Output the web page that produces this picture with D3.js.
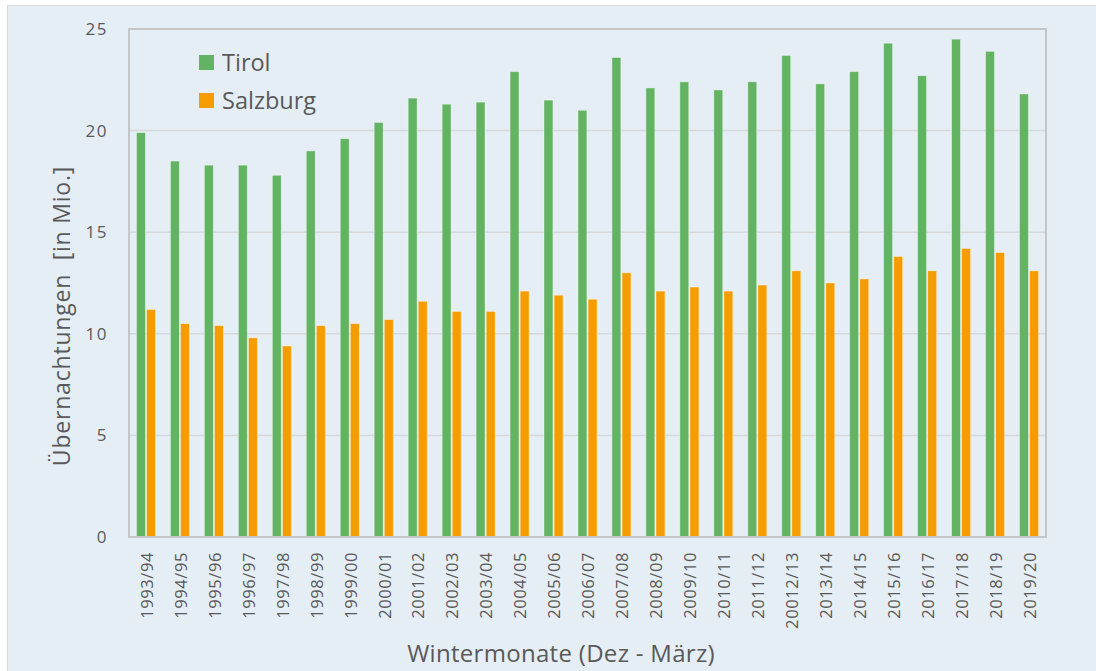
<!DOCTYPE html>
<html>
<head>
<meta charset="utf-8">
<script src="https://cdn.jsdelivr.net/npm/d3@7"></script>
<style>
  html, body { margin: 0; padding: 0; background: #ffffff; }
  svg { display: block; font-family: "Open Sans", "DejaVu Sans", sans-serif; }
</style>
</head>
<body>
<svg id="chart" width="1096" height="671"></svg>
<script>
// Winter overnight stays (Dec - March), millions
const seasons = [
  '1993/94', '1994/95', '1995/96', '1996/97', '1997/98', '1998/99', '1999/00',
  '2000/01', '2001/02', '2002/03', '2003/04', '2004/05', '2005/06', '2006/07',
  '2007/08', '2008/09', '2009/10', '2010/11', '2011/12', '20012/13', '2013/14',
  '2014/15', '2015/16', '2016/17', '2017/18', '2018/19', '2019/20'
];
const tirol = [
  19.9, 18.5, 18.3, 18.3, 17.8, 19.0, 19.6,
  20.4, 21.6, 21.3, 21.4, 22.9, 21.5, 21.0,
  23.6, 22.1, 22.4, 22.0, 22.4, 23.7, 22.3,
  22.9, 24.3, 22.7, 24.5, 23.9, 21.8
];
const salzburg = [
  11.2, 10.5, 10.4, 9.8, 9.4, 10.4, 10.5,
  10.7, 11.6, 11.1, 11.1, 12.1, 11.9, 11.7,
  13.0, 12.1, 12.3, 12.1, 12.4, 13.1, 12.5,
  12.7, 13.8, 13.1, 14.2, 14.0, 13.1
];
const seriesNames = ['Tirol', 'Salzburg'];
const seriesColors = ['#62b463', '#f59c00'];
const yTicks = [0, 5, 10, 15, 20, 25];

const svg = d3.select('#chart');
const W = 1096, H = 671;
const plot = { left: 129, right: 1046, top: 29, bottom: 537 };
const textColor = '#595959';

// chart background panel
svg.append('rect')
  .attr('x', 7.5).attr('y', 5.5)
  .attr('width', W).attr('height', H)
  .attr('fill', '#e5eef5')
  .attr('stroke', '#d4d9dd');

const x = d3.scaleBand()
  .domain(seasons)
  .range([plot.left, plot.right])
  .paddingInner(0.44)
  .paddingOuter(0.22);

const xSub = d3.scaleBand()
  .domain(seriesNames)
  .range([0, x.bandwidth()])
  .paddingInner(0.12);

const y = d3.scaleLinear()
  .domain([0, 25])
  .range([plot.bottom, plot.top]);

// gridlines
svg.append('g')
  .selectAll('line')
  .data(yTicks.filter(t => t > 0 && t < 25))
  .join('line')
  .attr('x1', plot.left).attr('x2', plot.right)
  .attr('y1', d => y(d)).attr('y2', d => y(d))
  .attr('stroke', '#d6d9dc')
  .attr('stroke-width', 1.5);

// bars
const rows = seasons.map((s, i) => ({ season: s, values: [tirol[i], salzburg[i]] }));
const groups = svg.append('g')
  .selectAll('g')
  .data(rows)
  .join('g')
  .attr('transform', d => `translate(${x(d.season)},0)`);

groups.selectAll('rect')
  .data(d => d.values.map((v, k) => ({ key: seriesNames[k], value: v, color: seriesColors[k] })))
  .join('rect')
  .attr('x', d => xSub(d.key))
  .attr('width', xSub.bandwidth())
  .attr('y', d => y(d.value))
  .attr('height', d => y(0) - y(d.value))
  .attr('fill', d => d.color)
  .attr('stroke', 'rgba(255,255,255,0.45)')
  .attr('stroke-width', 0.8);

// plot frame
svg.append('rect')
  .attr('x', plot.left).attr('y', plot.top)
  .attr('width', plot.right - plot.left)
  .attr('height', plot.bottom - plot.top)
  .attr('fill', 'none')
  .attr('stroke', '#c4c7ca')
  .attr('stroke-width', 2);

// y axis labels
svg.append('g')
  .selectAll('text')
  .data(yTicks)
  .join('text')
  .attr('x', 108)
  .attr('y', d => y(d))
  .attr('dy', '0.35em')
  .attr('text-anchor', 'end')
  .attr('fill', textColor)
  .attr('font-size', 17)
  .attr('letter-spacing', 1.5)
  .text(d => d);

// x axis labels (rotated)
svg.append('g')
  .selectAll('text')
  .data(seasons)
  .join('text')
  .attr('transform', d => `translate(${x(d) + x.bandwidth() / 2 + 1},552) rotate(-90)`)
  .attr('dy', '0.35em')
  .attr('text-anchor', 'end')
  .attr('fill', textColor)
  .attr('font-size', 16.5)
  .attr('letter-spacing', 0.6)
  .text(d => d);

// axis titles
svg.append('text')
  .attr('transform', 'translate(62,316) rotate(-90)')
  .attr('dy', '0.35em')
  .attr('text-anchor', 'middle')
  .attr('fill', textColor)
  .attr('font-size', 23)
  .attr('letter-spacing', 0.8)
  .attr('xml:space', 'preserve')
  .text('Übernachtungen  [in Mio.]');

svg.append('text')
  .attr('x', 561)
  .attr('y', 662)
  .attr('text-anchor', 'middle')
  .attr('fill', textColor)
  .attr('font-size', 24)
  .attr('letter-spacing', 0.3)
  .text('Wintermonate (Dez - März)');

// legend
const legend = svg.append('g')
  .selectAll('g')
  .data(seriesNames)
  .join('g')
  .attr('transform', (d, i) => `translate(199,${55 + i * 38})`);
legend.append('rect')
  .attr('width', 15).attr('height', 15)
  .attr('fill', (d, i) => seriesColors[i]);
legend.append('text')
  .attr('x', 23)
  .attr('y', 8)
  .attr('dy', '0.35em')
  .attr('fill', textColor)
  .attr('font-size', 23.5)
  .text(d => d);
</script>
</body>
</html>
